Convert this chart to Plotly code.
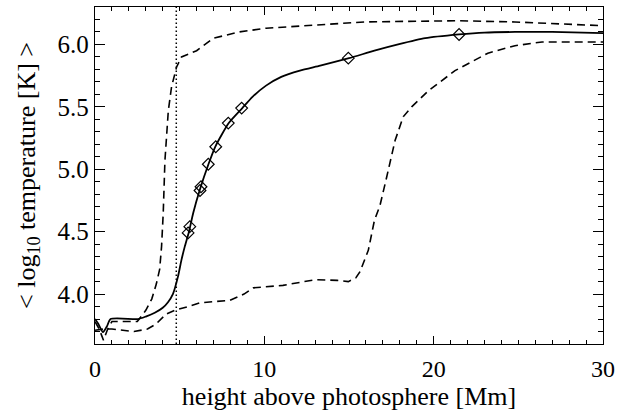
import plotly.graph_objects as go

# Solid curve (mean temperature)
solid_x = [0, 0.2, 0.47, 0.7, 0.92, 2.54, 3.0, 3.53, 4.0, 4.31, 4.6, 4.9, 5.1, 5.3, 5.55,
           5.8, 6.2, 6.7, 7.1, 7.9, 8.7, 9.3, 10.1, 11.0, 12.1, 13.3, 15.0, 16.5, 17.9,
           19.5, 21.5, 23.0, 24.8, 27.0, 30]
solid_y = [3.80, 3.76, 3.695, 3.74, 3.80, 3.80, 3.82, 3.85, 3.89, 3.935, 4.0, 4.14, 4.27,
           4.38, 4.50, 4.65, 4.84, 5.04, 5.18, 5.37, 5.49, 5.58, 5.67, 5.74, 5.79, 5.83,
           5.89, 5.95, 6.00, 6.05, 6.08, 6.095, 6.10, 6.10, 6.09]

# Diamond markers on the solid curve
mark_x = [5.5, 5.6, 6.2, 6.26, 6.69, 7.13, 7.87, 8.66, 14.96, 21.5]
mark_y = [4.49, 4.54, 4.83, 4.86, 5.04, 5.18, 5.37, 5.49, 5.89, 6.08]

# Upper dashed curve
upper_x = [0, 0.25, 0.5, 0.75, 1.0, 2.5, 3.0, 3.35, 3.62, 3.82, 3.93, 4.03, 4.13, 4.33,
           4.52, 4.82, 5.11, 6.0, 7.0, 8.5, 10.1, 13.3, 15.9, 18.5, 21.5, 24.8, 27.8, 30]
upper_y = [3.78, 3.72, 3.63, 3.72, 3.78, 3.78, 3.87, 3.96, 4.08, 4.20, 4.38, 4.65, 5.07,
           5.47, 5.66, 5.82, 5.90, 5.95, 6.05, 6.10, 6.13, 6.16, 6.18, 6.185, 6.19, 6.18,
           6.16, 6.15]

# Lower dashed curve
lower_x = [0, 0.5, 1.0, 2.3, 3.1, 3.6, 4.2, 4.7, 5.5, 6.2, 7.97, 8.8, 9.35, 11.1, 13.0,
           14.3, 14.96, 15.4, 15.65, 16.14, 16.5, 16.83, 17.23, 17.72, 18.2, 18.7, 19.7,
           21.26, 23.2, 24.8, 26.4, 28, 30]
lower_y = [3.71, 3.72, 3.72, 3.70, 3.72, 3.76, 3.84, 3.87, 3.90, 3.93, 3.95, 4.00, 4.05,
           4.07, 4.115, 4.11, 4.10, 4.13, 4.18, 4.35, 4.59, 4.71, 4.94, 5.23, 5.42, 5.50,
           5.63, 5.79, 5.93, 5.99, 6.02, 6.02, 6.02]

vline_x = 4.8
x_range = [0, 30]
y_range = [3.6, 6.3]
x_ticks = [0, 10, 20, 30]
x_ticklabels = ["0", "10", "20", "30"]
y_ticks = [4.0, 4.5, 5.0, 5.5, 6.0]
y_ticklabels = ["4.0", "4.5", "5.0", "5.5", "6.0"]

FONT = "Times New Roman, Liberation Serif, serif"

fig = go.Figure()
fig.add_trace(go.Scatter(x=upper_x, y=upper_y, mode="lines",
                         line=dict(color="black", width=1.6, dash="8px,5px"), showlegend=False))
fig.add_trace(go.Scatter(x=lower_x, y=lower_y, mode="lines",
                         line=dict(color="black", width=1.6, dash="8px,5px"), showlegend=False))
fig.add_trace(go.Scatter(x=solid_x, y=solid_y, mode="lines",
                         line=dict(color="black", width=1.8, shape="spline", smoothing=0.6),
                         showlegend=False))
fig.add_trace(go.Scatter(x=mark_x, y=mark_y, mode="markers",
                         marker=dict(symbol="diamond-open", size=9, color="black",
                                     line=dict(width=1.2, color="black")),
                         showlegend=False))
fig.add_trace(go.Scatter(x=[vline_x, vline_x], y=y_range, mode="lines",
                         line=dict(color="black", width=1.5, dash="1.5px,2.5px"),
                         showlegend=False))

fig.update_xaxes(range=x_range, tickvals=x_ticks, ticktext=x_ticklabels,
                 showgrid=False, zeroline=False, showline=True, linecolor="black",
                 linewidth=1.3, ticks="inside", tickcolor="black", mirror="allticks",
                 ticklen=8, tickwidth=1, ticklabelstandoff=3,
                 tickfont=dict(family=FONT, size=24, color="black"),
                 minor=dict(dtick=1, ticklen=4, ticks="inside", tickcolor="black", tickwidth=1),
                 title=dict(text="height above photosphere [Mm]",
                            font=dict(family=FONT, size=26, color="black"), standoff=4))
fig.update_yaxes(range=y_range, tickvals=y_ticks, ticktext=y_ticklabels,
                 showgrid=False, zeroline=False, showline=True, linecolor="black",
                 linewidth=1.3, ticks="inside", tickcolor="black", mirror="allticks",
                 ticklen=10, tickwidth=1,
                 tickfont=dict(family=FONT, size=25, color="black"),
                 minor=dict(dtick=0.1, tick0=3.6, ticklen=5, ticks="inside", tickcolor="black", tickwidth=1),
                 title=dict(text="&lt; log<sub>10</sub> temperature [K] &gt;",
                            font=dict(family=FONT, size=26, color="black"), standoff=14))

fig.update_layout(width=635, height=412, margin=dict(l=95, r=32, t=7, b=68),
                  plot_bgcolor="white", paper_bgcolor="white",
                  font=dict(family=FONT, color="black"))

fig.write_html("out.html", config={"displayModeBar": False},
               post_script="document.body.style.margin='0';document.body.style.padding='0';")
